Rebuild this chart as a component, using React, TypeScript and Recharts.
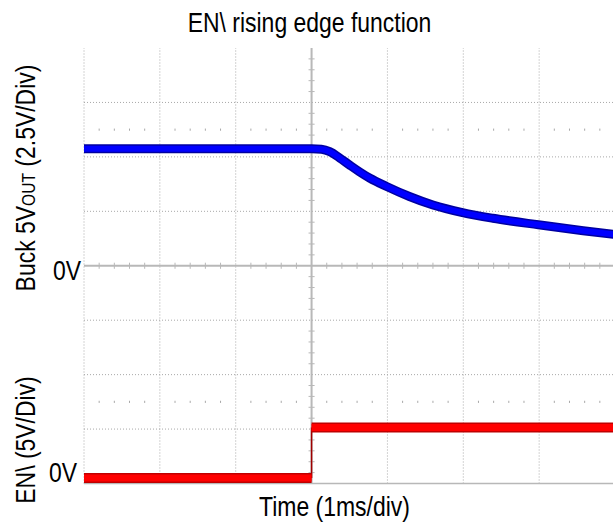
import { LineChart, Line, XAxis, YAxis, ReferenceLine } from 'recharts'

// time in ms, buck output in V (2.5 V/div), EN\ in V (5 V/div)
const buckTime = [-3, -1.5, 0, 0.13, 0.24, 0.37, 0.5, 0.63, 0.77, 0.99, 1.29, 1.6, 1.99, 2.39, 2.99, 3.58, 4]
const buckVolts = [5.37, 5.37, 5.37, 5.35, 5.24, 4.95, 4.63, 4.32, 4.02, 3.64, 3.18, 2.79, 2.44, 2.18, 1.88, 1.61, 1.44]

const enLowTime = [-3, 0]
const enLowVolts = [0, 0]
const enHighTime = [0, 4]
const enHighVolts = [4.64, 4.64]

const gridTimes = [-3, -2, -1, 1, 2, 3]
const gridVolts = [-7.5, -5, -2.5, 2.5, 5, 7.5]

const minorTimes: number[] = []
for (let k = 1; k < 35; k++) if (k % 5 !== 0) minorTimes.push(-3 + k * 0.2)
const minorVolts: number[] = []
for (let k = 1; k < 40; k++) if (k % 5 !== 0) minorVolts.push(-10 + k * 0.5)

const buckData = buckTime.map((t, i) => ({ t, v: buckVolts[i] }))
const enLow = enLowTime.map((t, i) => ({ t, v: enLowVolts[i] }))
const enHigh = enHighTime.map((t, i) => ({ t, v: enHighVolts[i] }))
const enEdge = [{ t: 0, v: enLowVolts[1] }, { t: 0, v: enHighVolts[0] }]

const FONT = '"Liberation Sans", Arial, sans-serif'
const GRID = '#a8a8a8'
const AXIS = '#b8b8b8'
const SX = 0.82 // narrow the face to match the condensed lettering

export default function App() {
  return (
    <div style={{ position: 'absolute', left: 0, top: 0, width: 613, height: 523, overflow: 'hidden', background: '#fff' }}>
      <LineChart width={615} height={523} margin={{ top: 48, right: 0, left: 84, bottom: 39.5 }}>
        <XAxis type="number" dataKey="t" domain={[-3, 4]} hide allowDataOverflow />
        <YAxis yAxisId="buck" type="number" domain={[-10, 10]} hide allowDataOverflow />
        <YAxis yAxisId="en" type="number" domain={[-0.5, 39.5]} hide allowDataOverflow />

        {gridTimes.map(t => (
          <ReferenceLine key={'gx' + t} yAxisId="buck" x={t} stroke={GRID} strokeDasharray="1 2" />
        ))}
        {gridVolts.map(v => (
          <ReferenceLine key={'gy' + v} yAxisId="buck" y={v} stroke={GRID} strokeDasharray="1 2" />
        ))}
        <ReferenceLine yAxisId="buck" y={-10} stroke={AXIS} strokeWidth={1.5} />
        <ReferenceLine yAxisId="buck" y={0} stroke={AXIS} strokeWidth={2} />
        <ReferenceLine yAxisId="buck" x={0} stroke={AXIS} strokeWidth={2} />

        {minorTimes.map(t => (
          <ReferenceLine key={'mx' + t} yAxisId="buck" segment={[{ x: t, y: -0.14 }, { x: t, y: 0.14 }]} stroke={AXIS} />
        ))}
        {minorVolts.map(v => (
          <ReferenceLine key={'my' + v} yAxisId="buck" segment={[{ x: -0.04, y: v }, { x: 0.04, y: v }]} stroke={AXIS} />
        ))}
        {minorTimes.map(t => (
          <ReferenceLine key={'du' + t} yAxisId="buck" segment={[{ x: t, y: 6.2 }, { x: t, y: 6.3 }]} stroke={GRID} />
        ))}
        {minorTimes.map(t => (
          <ReferenceLine key={'dl' + t} yAxisId="buck" segment={[{ x: t, y: -6.2 }, { x: t, y: -6.3 }]} stroke={GRID} />
        ))}

        <Line yAxisId="buck" data={buckData} dataKey="v" type="monotone" stroke="#0000a0" strokeWidth={9} dot={false} isAnimationActive={false} />
        <Line yAxisId="buck" data={buckData} dataKey="v" type="monotone" stroke="#0000ff" strokeWidth={6} dot={false} isAnimationActive={false} />

        <Line yAxisId="en" data={enEdge} dataKey="v" type="linear" stroke="#a00000" strokeWidth={1.5} dot={false} isAnimationActive={false} />
        <Line yAxisId="en" data={enLow} dataKey="v" type="linear" stroke="#c00000" strokeWidth={10} dot={false} isAnimationActive={false} />
        <Line yAxisId="en" data={enLow} dataKey="v" type="linear" stroke="#ff0000" strokeWidth={7} dot={false} isAnimationActive={false} />
        <Line yAxisId="en" data={enHigh} dataKey="v" type="linear" stroke="#c00000" strokeWidth={10} dot={false} isAnimationActive={false} />
        <Line yAxisId="en" data={enHigh} dataKey="v" type="linear" stroke="#ff0000" strokeWidth={7} dot={false} isAnimationActive={false} />
      </LineChart>

      <svg width={613} height={523} style={{ position: 'absolute', left: 0, top: 0, pointerEvents: 'none' }}>
        <g fontFamily={FONT} fill="#000" fontSize={28}>
          <text transform={`translate(309.5,32) scale(${SX},1)`} textAnchor="middle">EN\ rising edge function</text>
          <text transform={`translate(334.5,516) scale(${SX},1)`} textAnchor="middle">Time (1ms/div)</text>
          <text transform={`translate(81,280) scale(${SX},1)`} textAnchor="end">0V</text>
          <text transform={`translate(77,482) scale(${SX},1)`} textAnchor="end">0V</text>
          <text transform={`translate(35,178) rotate(-90) scale(${SX},1)`} textAnchor="middle">
            Buck 5V<tspan fontSize={19}>OUT</tspan> (2.5V/Div)
          </text>
          <text transform={`translate(35,440) rotate(-90) scale(${SX},1)`} textAnchor="middle">EN\ (5V/Div)</text>
        </g>
      </svg>
    </div>
  )
}
